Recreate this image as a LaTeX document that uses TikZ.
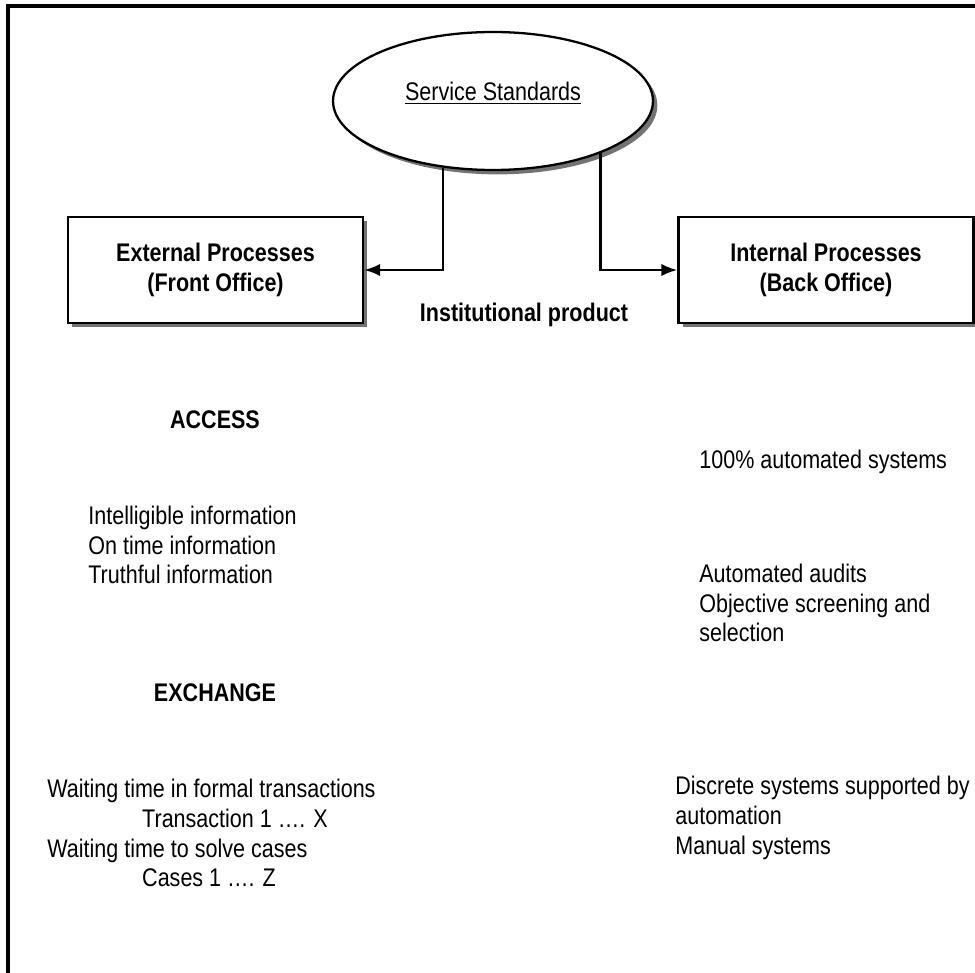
\documentclass[tikz,border=0pt]{standalone}
\usepackage{fontspec}
\setmainfont[FakeStretch=0.845]{Liberation Sans}
\usetikzlibrary{shapes.geometric,shadows,arrows.meta}
\begin{document}
\begin{tikzpicture}[
  x=0.02cm, y=-0.02cm,
  font=\fontsize{14.5}{17}\selectfont,
  boxshadow/.style={drop shadow={shadow xshift=2.5pt, shadow yshift=-2.5pt, fill=black!55, opacity=1}},
  proc/.style={draw, line width=1.4pt, fill=white, boxshadow, minimum width=5.9cm, minimum height=2.12cm, align=center, font=\fontsize{14.5}{17}\selectfont\bfseries},
  std/.style={ellipse, draw, line width=1.3pt, fill=white, boxshadow, minimum width=6.4cm, minimum height=2.76cm, inner sep=0pt, text depth=11pt},
  head/.style={font=\fontsize{14.5}{17}\selectfont\bfseries},
  item/.style={anchor=west, align=left, inner sep=0pt},
  link/.style={line width=1.4pt, -{Latex[length=9pt, width=7pt]}},
]
  \useasboundingbox (0,0) rectangle (975,973);
  \draw[line width=1.9pt] (8,980) -- (8,6) -- (980,6);

  \node[std] (std) at (493,101) {\underline{Service Standards}};
  \node[proc] (front) at (215.5,270) {External Processes\\(Front Office)};
  \node[proc] (back) at (826,270) {Internal Processes\\(Back Office)};
  \draw[link] (std.233) |- (front);
  \draw[link] (std.334) |- (back);

  \node[head] (inst) at (524,315) {Institutional product};
  \node[head] (access) at (215,420) {ACCESS};
  \node[item] (accesslist) at (88,545) {Intelligible information\\On time information\\Truthful information};
  \node[head] (exchange) at (215,693) {EXCHANGE};
  \node[item] (exchangelist) at (47,833) {Waiting time in formal transactions\\\hspace*{54pt}Transaction 1 …. X\\Waiting time to solve cases\\\hspace*{54pt}Cases 1 …. Z};

  \node[item] (auto) at (699,462) {100\% automated systems};
  \node[item] (audits) at (699,603) {Automated audits\\Objective screening and\\selection};
  \node[item] (discrete) at (675,818) {Discrete systems supported by\\automation\\Manual systems};
\end{tikzpicture}
\end{document}
